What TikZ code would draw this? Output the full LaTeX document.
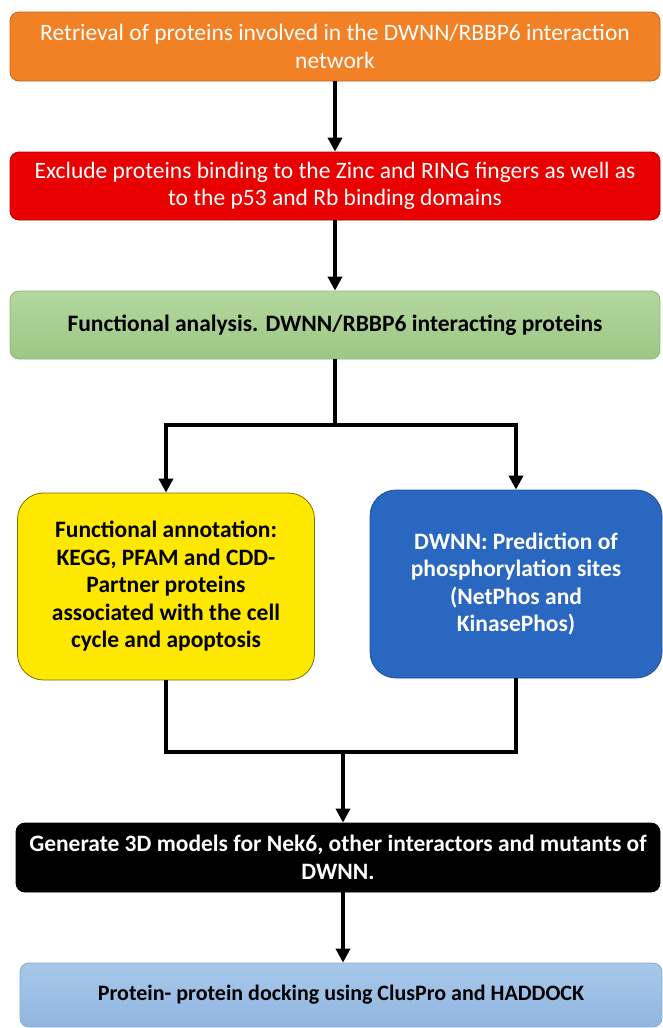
\documentclass[tikz,border=0pt]{standalone}
\usepackage{fontspec}
\setmainfont{Carlito}
\usetikzlibrary{arrows.meta,calc}
\definecolor{orangeF}{HTML}{F28125}
\definecolor{orangeD}{HTML}{C0651C}
\definecolor{redF}{HTML}{E90000}
\definecolor{redD}{HTML}{B00000}
\definecolor{greenT}{HTML}{B4D79E}
\definecolor{greenB}{HTML}{9CC784}
\definecolor{greenD}{HTML}{8DB775}
\definecolor{yellowF}{HTML}{FFE800}
\definecolor{yellowD}{HTML}{7A7000}
\definecolor{blueF}{HTML}{2A67C0}
\definecolor{blueD}{HTML}{214F93}
\definecolor{lbT}{HTML}{A8C8EA}
\definecolor{lbB}{HTML}{90B6E0}
\definecolor{lbD}{HTML}{85A9D2}
\tikzset{
  box/.style={rectangle, rounded corners=9pt, align=center, inner sep=2pt,
    font=\fontsize{23.5}{27.5}\selectfont, line width=0.8pt},
  tallbox/.style={box, rounded corners=26pt},
  arr/.style={line width=3.5pt, -{Triangle[length=14pt,width=14pt]}},
  ln/.style={line width=3.5pt}
}
\begin{document}
\begin{tikzpicture}[x=1pt,y=-1pt]
\useasboundingbox (0,0) rectangle (662,1028);
\node[box, draw=orangeD, fill=orangeF, text=white, minimum width=650pt, minimum height=69pt] (orange) at (335,46.5)
  {Retrieval of proteins involved in the DWNN/RBBP6 interaction\\network};
\node[box, draw=redD, fill=redF, text=white, minimum width=650pt, minimum height=68pt] (red) at (335,186)
  {Exclude proteins binding to the Zinc and RING fingers as well as\\to the p53 and Rb binding domains};
\node[box, draw=greenD, top color=greenT, bottom color=greenB, text=black, minimum width=650pt, minimum height=68pt] (green) at (335,325)
  {\bfseries\raisebox{-3pt}{Functional analysis. DWNN/RBBP6 interacting proteins}};
\node[tallbox, draw=yellowD, fill=yellowF, text=black, minimum width=297pt, minimum height=187pt] (yellow) at (166,586.5)
  {\bfseries Functional annotation:\\\bfseries KEGG, PFAM and CDD-\\\bfseries Partner proteins\\\bfseries associated with the cell\\\bfseries cycle and apoptosis};
\node[tallbox, draw=blueD, fill=blueF, text=white, minimum width=292pt, minimum height=188pt] (blue) at (516,584)
  {\bfseries DWNN: Prediction of\\\bfseries phosphorylation sites\\\bfseries (NetPhos and\\\bfseries KinasePhos)};
\node[box, draw=black, fill=black, text=white, minimum width=644pt, minimum height=69pt] (black) at (338,857.5)
  {\bfseries Generate 3D models for Nek6, other interactors and mutants of\\\bfseries DWNN.};
\node[box, draw=lbD, top color=lbT, bottom color=lbB, text=black, minimum width=642pt, minimum height=64pt, font=\fontsize{22}{26}\selectfont] (lb) at (341,995)
  {\bfseries Protein- protein docking using ClusPro and HADDOCK};
\coordinate (split) at (335,425);
\coordinate (merge) at (343,752);
\draw[arr] (orange.south) -- (red.north);
\draw[arr] (red.south) -- (green.north);
\draw[ln] (green.south) -- (split);
\draw[arr] (split) -| (yellow.north);
\draw[arr] (split) -| (blue.north);
\draw[ln] (yellow.south) |- (merge) -| (blue.south);
\draw[arr] (merge) -- (black.north -| merge);
\draw[arr] (black.south -| merge) -- (lb.north -| merge);
\end{tikzpicture}
\end{document}
